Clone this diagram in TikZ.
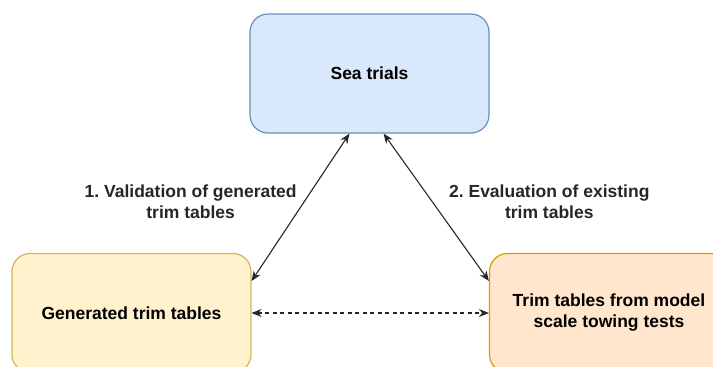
\documentclass[tikz,border=0pt]{standalone}
\usepackage{fontspec}
\setmainfont{Liberation Sans}
\frenchspacing
\definecolor{SeaFill}{HTML}{DAE8FC}
\definecolor{SeaLine}{HTML}{6C8EBF}
\definecolor{GenFill}{HTML}{FFF2CC}
\definecolor{GenLine}{HTML}{D6B656}
\definecolor{TowFill}{HTML}{FFE6CC}
\definecolor{TowLine}{HTML}{D79B00}
\usetikzlibrary{arrows.meta, positioning, calc}

\begin{document}
\begin{tikzpicture}[node distance=239.5pt, font=\fontsize{17.5}{21}\selectfont\bfseries]
        \tikzstyle{tablebox} = [rectangle, rounded corners=18pt, minimum width=239pt, minimum height=119pt, text centered, align=center, line width=1.2pt]
        \tikzstyle{link} = [{Stealth[length=10pt, width=8pt]}-{Stealth[length=10pt, width=8pt]}, line width=1.1pt, black!85]
        \tikzstyle{note} = [align=center, yshift=6pt]

        \useasboundingbox (0pt,0pt) rectangle (713pt,-367pt);

        % Boxes
        \node (sea) [tablebox, draw=SeaLine, fill=SeaFill] at (369.5pt,-73.5pt) {Sea trials};
        \node (gen) [tablebox, draw=GenLine, fill=GenFill, below of=sea, xshift=-238pt] {Generated trim tables};
        \node (tow) [tablebox, draw=TowLine, fill=TowFill, below of=sea, xshift=239.5pt] {Trim tables from model\\scale towing tests};

        % Links
        \draw [link] ([xshift=100pt]sea.south west) -- node[note, left] {1. Validation of generated\\trim tables} ([yshift=32pt]gen.east);
        \draw [link] ([xshift=-106pt]sea.south east) -- node[note, right, xshift=9pt] {2. Evaluation of existing\\trim tables} ([yshift=32pt]tow.west);
        \draw [link, dash pattern=on 4pt off 3.5pt] (gen) -- (tow);
    \end{tikzpicture}
\end{document}
